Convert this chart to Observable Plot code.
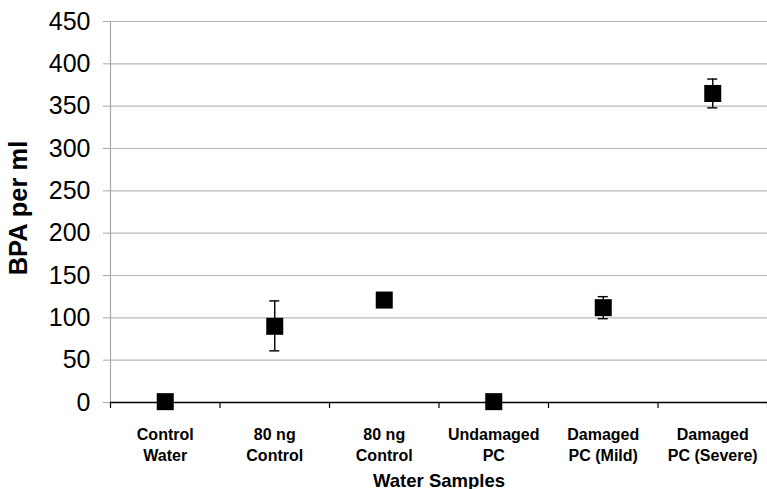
<!DOCTYPE html>
<html>
<head>
<meta charset="utf-8">
<script src="https://cdn.jsdelivr.net/npm/d3@7"></script>
<script src="https://cdn.jsdelivr.net/npm/@observablehq/plot@0.6"></script>
<style>
  html, body { margin: 0; padding: 0; background: #fff; }
  #chart { width: 767px; height: 489px; overflow: hidden; }
</style>
</head>
<body>
<div id="chart"></div>
<script>
const categories = ["Control\nWater", "80 ng\nControl", "80 ng\nControl", "Undamaged\nPC", "Damaged\nPC (Mild)", "Damaged\nPC (Severe)"];
const means = [1, 90, 121, 1, 112, 365];
const errLow = [null, 61, null, null, 99, 348];
const errHigh = [null, 120, null, null, 125, 382];
const yTicks = [0, 50, 100, 150, 200, 250, 300, 350, 400, 450];
const yTitle = "BPA per ml";
const xTitle = "Water Samples";

const rows = categories.map((c, i) => ({i, c, mean: means[i], lo: errLow[i], hi: errHigh[i]}));
const errRows = rows.filter(d => d.lo != null);
const capHalf = 0.046;
const boundaries = d3.range(categories.length + 1).map(i => i - 0.5);

const font = "'Liberation Sans', Arial, Helvetica, sans-serif";

const chart = Plot.plot({
  width: 767,
  height: 489,
  marginLeft: 110,
  marginRight: 0,
  marginTop: 21,
  marginBottom: 87,
  style: {fontFamily: font, background: "#fff", color: "#000", overflow: "visible"},
  x: {domain: [-0.5, categories.length - 0.5], axis: null},
  y: {domain: [0, 450], axis: null},
  marks: [
    Plot.ruleY(yTicks.filter(v => v > 0), {stroke: "#b8b8b8", strokeWidth: 1.2}),
    Plot.ruleX([-0.5], {y1: 0, y2: 450, stroke: "#a8a8a8", strokeWidth: 1.2}),
    Plot.axisY({ticks: yTicks, tickSize: 7, tickPadding: 13, stroke: "#a8a8a8", fontSize: 25, tickFormat: d => String(d), label: null}),
    Plot.ruleY([0], {stroke: "#000", strokeWidth: 1.5}),
    Plot.axisX({ticks: boundaries, tickSize: 6, stroke: "#000", strokeWidth: 1.2, tickFormat: () => "", label: null}),
    Plot.text(rows, {x: "i", text: "c", frameAnchor: "bottom", lineAnchor: "top", dy: 22, fontSize: 16, fontWeight: "bold", lineHeight: 1.35, fill: "#000"}),
    Plot.text([xTitle], {frameAnchor: "bottom", dy: 78.5, lineAnchor: "middle", fontSize: 18.5, fontWeight: "bold", fill: "#000"}),
    Plot.text([yTitle], {frameAnchor: "left", textAnchor: "middle", dx: -92, dy: -4, rotate: -90, fontSize: 25.5, fontWeight: "bold", fill: "#000", lineAnchor: "middle"}),
    Plot.ruleX(errRows, {x: "i", y1: "lo", y2: "hi", stroke: "#000", strokeWidth: 1.4}),
    Plot.ruleY(errRows, {y: "lo", x1: d => d.i - capHalf, x2: d => d.i + capHalf, stroke: "#000", strokeWidth: 1.4}),
    Plot.ruleY(errRows, {y: "hi", x1: d => d.i - capHalf, x2: d => d.i + capHalf, stroke: "#000", strokeWidth: 1.4}),
    Plot.dot(rows, {x: "i", y: "mean", symbol: "square", r: 9.6, fill: "#000", stroke: "none"})
  ]
});
document.getElementById("chart").appendChild(chart);
</script>
</body>
</html>
